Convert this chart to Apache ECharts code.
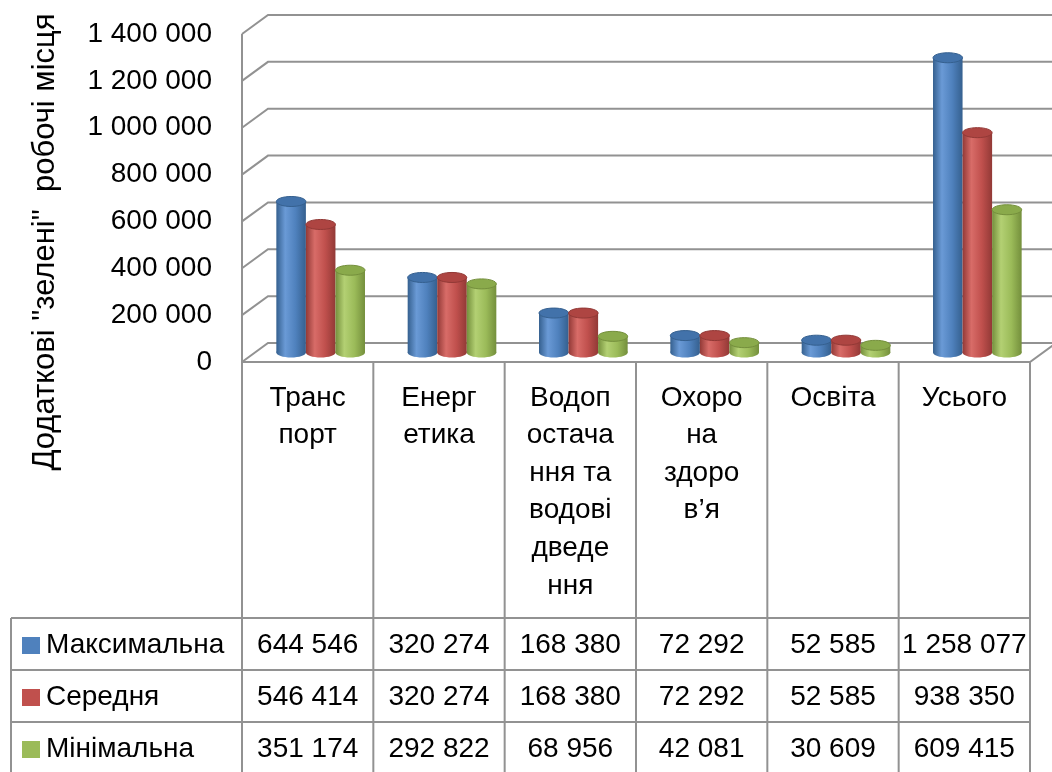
<!DOCTYPE html>
<html>
<head>
<meta charset="utf-8">
<script src="https://cdn.jsdelivr.net/npm/echarts@6/dist/echarts.min.js"></script>
<style>
  html, body { margin: 0; padding: 0; background: #fff; }
  #main { width: 1052px; height: 772px; }
</style>
</head>
<body>
<div id="main"></div>
<script>
const categories = ['Транспорт', 'Енергетика', 'Водопостачання та водовідведення', 'Охорона здоров’я', 'Освіта', 'Усього'];
const categoryLabels = ['Транс\nпорт', 'Енерг\nетика', 'Водоп\nостача\nння та\nводові\nдведе\nння', 'Охоро\nна\nздоро\nв’я', 'Освіта', 'Усього'];
const seriesNames = ['Максимальна', 'Середня', 'Мінімальна'];
const maxValues = [644546, 320274, 168380, 72292, 52585, 1258077];
const avgValues = [546414, 320274, 168380, 72292, 52585, 938350];
const minValues = [351174, 292822, 68956, 42081, 30609, 609415];
const yTicks = [0, 200000, 400000, 600000, 800000, 1000000, 1200000, 1400000];
const yAxisTitle = 'Додаткові "зелені"  робочі місця';

const allValues = [maxValues, avgValues, minValues];
// base, light, dark, top
const palettes = [
  ['#4F81BD', '#6A9AD6', '#35608F', '#4272AA'],
  ['#C0504D', '#D86C68', '#923936', '#AE4542'],
  ['#9BBB59', '#B3D073', '#748F3C', '#8AAA4B']
];

const FONT = 'Liberation Sans';
const FS = 28;
const W = 1052, H = 772;
const gridLeft = 242, gridRight = 1030, gridTop = 34, gridBottom = 362;
const DX = 26, DY = 19;   // depth of the 3d box
const cw = (gridRight - gridLeft) / categories.length;
const lineColor = '#929292';

function fmt(v) {
  return String(v).replace(/\B(?=(\d{3})+(?!\d))/g, ' ');
}

const chart = echarts.init(document.getElementById('main'), null, { renderer: 'canvas' });

function wallRender(params, api) {
  const cs = params.coordSys;
  const p = api.coord([0, api.value(1)]);
  const y = p[1];
  const children = [{
    type: 'polyline',
    shape: { points: [[cs.x, y], [cs.x + DX, y - DY], [cs.x + cs.width + DX + 4, y - DY]] },
    style: { stroke: lineColor, lineWidth: 2, fill: null }
  }];
  if (params.dataIndex === 0) {
    // floor front edge, right edge and front-left vertical edge
    children.push({
      type: 'polyline',
      shape: { points: [[cs.x, y], [cs.x + cs.width, y], [cs.x + cs.width + DX, y - DY]] },
      style: { stroke: lineColor, lineWidth: 2, fill: null }
    });
    children.push({
      type: 'line',
      shape: { x1: cs.x, y1: cs.y, x2: cs.x, y2: y },
      style: { stroke: lineColor, lineWidth: 2 }
    });
  }
  return { type: 'group', children: children };
}

function cylinderRender(sIdx) {
  const pal = palettes[sIdx];
  return function (params, api) {
    const base = api.coord([api.value(0), 0]);
    const top = api.coord([api.value(0), api.value(1)]);
    const band = api.size([1, 0])[0];
    const rx = band * 0.1125;
    const ry = 5;
    const cx = base[0] + DX / 2 + (sIdx - 1) * rx * 2;
    const yb = base[1] - DY / 2;
    const yt = top[1] - DY / 2;
    const grad = new echarts.graphic.LinearGradient(0, 0, 1, 0, [
      { offset: 0, color: pal[2] },
      { offset: 0.3, color: pal[1] },
      { offset: 0.65, color: pal[0] },
      { offset: 1, color: pal[2] }
    ]);
    return {
      type: 'group',
      children: [
        { type: 'ellipse', shape: { cx: cx, cy: yb, rx: rx, ry: ry }, style: { fill: grad } },
        { type: 'rect', shape: { x: cx - rx, y: yt, width: rx * 2, height: yb - yt }, style: { fill: grad } },
        { type: 'ellipse', shape: { cx: cx, cy: yt, rx: rx, ry: ry }, style: { fill: pal[3], stroke: pal[2], lineWidth: 1 } }
      ]
    };
  };
}

function tableGraphics() {
  const els = [];
  const rowTop = 618, rowH = 52, tableLeft = 11;
  const font = FS + 'px "' + FONT + '"';
  const line = (x1, y1, x2, y2) => els.push({
    type: 'line', shape: { x1: x1, y1: y1, x2: x2, y2: y2 },
    style: { stroke: lineColor, lineWidth: 2 }, z: 1
  });
  for (let k = 0; k <= categories.length; k++) {
    const x = gridLeft + k * cw;
    line(x, gridBottom, x, H);
  }
  line(tableLeft, rowTop, tableLeft, H);
  for (let r = 0; r <= seriesNames.length; r++) {
    line(tableLeft, rowTop + r * rowH, gridRight, rowTop + r * rowH);
  }
  seriesNames.forEach(function (name, r) {
    const cy = rowTop + r * rowH + rowH / 2 + 1;
    els.push({
      type: 'rect', shape: { x: 22, y: cy - 8, width: 18, height: 17 },
      style: { fill: palettes[r][0] }, z: 2
    });
    els.push({
      type: 'text', x: 46, y: cy,
      style: { text: name, font: font, fill: '#000', align: 'left', verticalAlign: 'middle' }, z: 2
    });
    allValues[r].forEach(function (v, c) {
      els.push({
        type: 'text', x: gridLeft + c * cw + cw / 2, y: cy,
        style: { text: fmt(v), font: font, fill: '#000', align: 'center', verticalAlign: 'middle' }, z: 2
      });
    });
  });
  els.push({
    type: 'text', x: 45, y: 242, rotation: Math.PI / 2,
    style: { text: yAxisTitle, font: '31px "' + FONT + '"', fill: '#000', align: 'center', verticalAlign: 'middle' }
  });
  return els;
}

const option = {
  backgroundColor: '#ffffff',
  animation: false,
  grid: {
    left: gridLeft,
    right: W - gridRight,
    top: gridTop,
    bottom: H - gridBottom,
    containLabel: false
  },
  xAxis: {
    type: 'category',
    data: categoryLabels,
    axisLine: { show: false },
    axisTick: { show: false },
    axisLabel: {
      interval: 0,
      margin: 17,
      fontFamily: FONT,
      fontSize: FS,
      lineHeight: 37.6,
      color: '#000',
      align: 'center'
    }
  },
  yAxis: {
    type: 'value',
    min: 0,
    max: 1400000,
    interval: 200000,
    axisLine: { show: false },
    axisTick: { show: false },
    splitLine: { show: false },
    axisLabel: {
      margin: 30,
      padding: [8, 0, 0, 0],
      backgroundColor: 'rgba(255,255,255,0)',
      fontFamily: FONT,
      fontSize: FS,
      color: '#000',
      formatter: fmt
    }
  },
  graphic: tableGraphics(),
  series: [{
    type: 'custom',
    name: 'walls',
    renderItem: wallRender,
    clip: false,
    silent: true,
    z: 1,
    data: yTicks.map(v => [0, v])
  }].concat(seriesNames.map(function (name, s) {
    return {
      type: 'custom',
      name: name,
      renderItem: cylinderRender(s),
      clip: false,
      z: 3,
      encode: { x: 0, y: 1 },
      data: allValues[s].map((v, i) => [i, v])
    };
  }))
};

chart.setOption(option);
</script>
</body>
</html>
